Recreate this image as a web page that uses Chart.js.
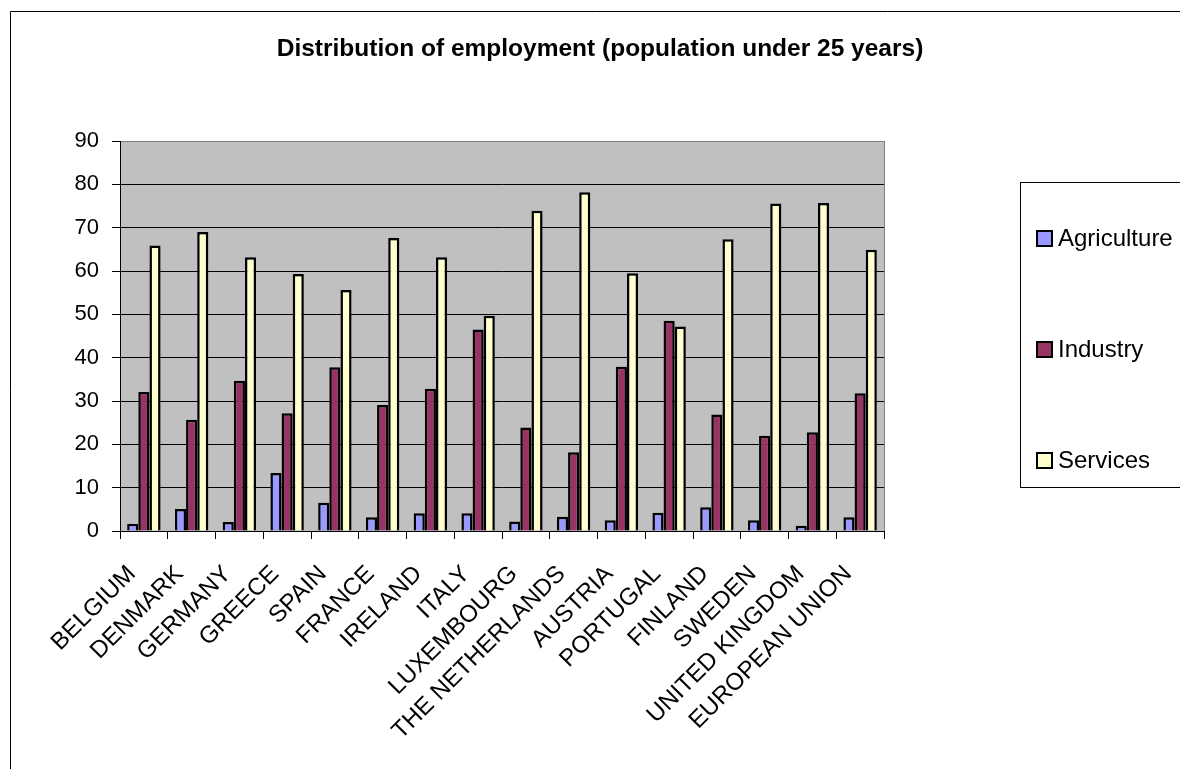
<!DOCTYPE html>
<html>
<head>
<meta charset="utf-8">
<script src="https://cdn.jsdelivr.net/npm/chart.js@4"></script>
<style>
html,body{margin:0;padding:0;background:#fff;}
#wrap{width:1180px;height:769px;}
</style>
</head>
<body>
<div id="wrap"><canvas id="c" width="1180" height="769"></canvas></div>
<script>
const categories = ['BELGIUM','DENMARK','GERMANY','GREECE','SPAIN','FRANCE','IRELAND','ITALY','LUXEMBOURG','THE NETHERLANDS','AUSTRIA','PORTUGAL','FINLAND','SWEDEN','UNITED KINGDOM','EUROPEAN UNION'];
const agriculture = [1.7, 5.1, 2.1, 13.4, 6.5, 3.2, 4.1, 4.1, 2.2, 3.3, 2.5, 4.2, 5.5, 2.5, 1.2, 3.2];
const industry    = [32.1, 25.7, 34.7, 27.2, 37.8, 29.1, 32.8, 46.5, 23.9, 18.2, 37.9, 48.5, 26.9, 22.0, 22.8, 31.8];
const services    = [65.9, 69.0, 63.2, 59.3, 55.6, 67.6, 63.2, 49.7, 73.9, 78.2, 59.5, 47.2, 67.3, 75.6, 75.7, 64.9];
const seriesNames = ['Agriculture', 'Industry', 'Services'];
const seriesColors = ['#9999FF', '#993366', '#FFFFCC'];
const yMin = 0, yMax = 90, yStep = 10;
const chartTitle = 'Distribution of employment (population under 25 years)';

const FONT = '"Liberation Sans", Arial, Helvetica, sans-serif';
Chart.defaults.font.family = FONT;
Chart.defaults.color = '#000';

const seriesValues = [agriculture, industry, services];

const decor = {
  id: 'decor',
  beforeDraw(chart) {
    const {ctx, chartArea: a} = chart;
    ctx.save();
    ctx.fillStyle = '#C0C0C0';
    ctx.fillRect(a.left, a.top, a.right - a.left, a.bottom - a.top);
    ctx.strokeStyle = '#000';
    ctx.lineWidth = 1;
    ctx.beginPath();
    ctx.moveTo(10.5, chart.height);
    ctx.lineTo(10.5, 11.5);
    ctx.lineTo(chart.width, 11.5);
    ctx.stroke();
    ctx.restore();
  },
  beforeDatasetsDraw(chart) {
    const {ctx, chartArea: a} = chart;
    ctx.save();
    ctx.strokeStyle = '#808080';
    ctx.lineWidth = 1;
    ctx.beginPath();
    ctx.moveTo(Math.round(a.right) + 0.5, a.top);
    ctx.lineTo(Math.round(a.right) + 0.5, a.bottom);
    ctx.stroke();
    ctx.restore();
  },
  afterDraw(chart) {
    const {ctx} = chart;
    const box = {x: 1020.5, y: 182.5, w: 200, h: 305};
    const rows = [238, 349, 460];
    ctx.save();
    ctx.strokeStyle = '#000';
    ctx.lineWidth = 1;
    ctx.strokeRect(box.x, box.y, box.w, box.h);
    ctx.font = '24px ' + FONT;
    ctx.textBaseline = 'middle';
    ctx.textAlign = 'left';
    chart.data.datasets.forEach((ds, i) => {
      const cy = rows[i];
      ctx.fillStyle = ds.backgroundColor;
      ctx.fillRect(1037, cy - 7, 15, 15);
      ctx.lineWidth = 2;
      ctx.strokeStyle = '#000';
      ctx.strokeRect(1037, cy - 7, 15, 15);
      ctx.fillStyle = '#000';
      ctx.fillText(ds.label, 1058, cy + 1);
    });
    ctx.restore();
  }
};

new Chart(document.getElementById('c'), {
  type: 'bar',
  data: {
    labels: categories,
    datasets: seriesNames.map((name, i) => ({
      label: name,
      data: seriesValues[i],
      backgroundColor: seriesColors[i],
      borderColor: '#000',
      borderWidth: 2.5,
      inflateAmount: 0,
      categoryPercentage: 0.7,
      barPercentage: 1.0
    }))
  },
  options: {
    responsive: false,
    animation: false,
    devicePixelRatio: 1,
    events: [],
    layout: {padding: {left: 20, right: 0, top: 0, bottom: 0}},
    plugins: {
      legend: {display: false},
      tooltip: {enabled: false},
      title: {
        display: true,
        text: chartTitle,
        color: '#000',
        font: {family: FONT, size: 24.5, weight: 'bold', lineHeight: 1.2},
        padding: {top: 35, bottom: 76.6}
      }
    },
    scales: {
      x: {
        offset: true,
        grid: {offset: true, drawOnChartArea: false, drawTicks: true, tickLength: 8, color: '#000', tickColor: '#000'},
        border: {display: true, color: '#000', width: 1},
        ticks: {autoSkip: false, maxRotation: 45, minRotation: 45, color: '#000', font: {family: FONT, size: 24}, padding: 21, labelOffset: -12},
        afterFit(s) { s.height = 238; }
      },
      y: {
        min: yMin, max: yMax,
        ticks: {stepSize: yStep, color: '#000', font: {family: FONT, size: 22}, padding: 13},
        grid: {
          color: (c) => (c.tick && c.tick.value === yMax) ? '#808080' : '#000',
          tickColor: '#000', tickLength: 8, lineWidth: 1
        },
        border: {display: true, color: '#000', width: 1},
        afterFit(s) { s.width = 100; }
      },
      spacer: {
        type: 'linear',
        position: 'right',
        display: true,
        grid: {display: false, drawTicks: false},
        ticks: {display: false},
        border: {display: false},
        afterFit(s) { s.width = 296; }
      }
    }
  },
  plugins: [decor]
});
</script>
</body>
</html>
